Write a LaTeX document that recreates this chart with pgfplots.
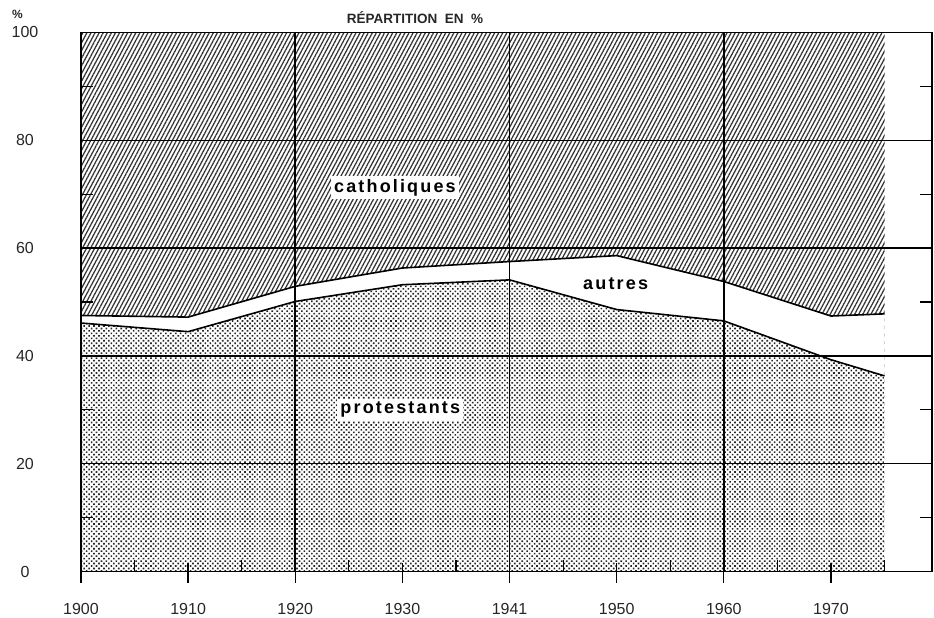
\documentclass[border=0pt]{standalone}
\usepackage{fontspec}
\setmainfont{Liberation Sans}
\newfontfamily\spaced[LetterSpace=12]{Liberation Sans}
\usepackage{pgfplots}
\pgfplotsset{compat=1.18}
\usetikzlibrary{patterns.meta}

\begin{document}
\begin{tikzpicture}
\path[use as bounding box] (-81pt,-46.3pt) rectangle (853pt,571.7pt);
\begin{axis}[
  scale only axis, width=851pt, height=539.4pt,
  xmin=1900, xmax=1979.43, ymin=0, ymax=100,
  axis on top,
  axis line style={black, line width=1.5pt},
  xtick={1900,1910,...,1970},
  xticklabels={1900,1910,1920,1930,1941,1950,1960,1970},
  minor xtick={1905,1915,...,1975},
  ytick={0,20,...,100},
  minor ytick={10,30,...,90},
  xtick pos=left,
  tick align=inside,
  major tick length=20pt, minor tick length=12pt,
  major x tick style={yshift=-11pt, line width=1.3pt, black},
  minor tick style={line width=1.2pt, black},
  major y tick style={draw=none},
  ymajorgrids, major grid style={black, line width=1.2pt},
  extra x ticks={1920,1940,1960}, extra x tick labels={},
  extra x tick style={grid=major, major tick length=0pt,
    major grid style={black, line width=1.6pt}},
  tick label style={font=\fontsize{16}{16}\selectfont, text=black!85},
  /pgf/number format/assume math mode=true,
  xticklabel style={anchor=center, yshift=-37pt},
  yticklabel style={anchor=center, xshift=-56pt},
]
% catholiques: hatched up to 100
\addplot[draw=none, pattern={Lines[angle=62, distance=3.6pt, line width=1.25pt]}, pattern color=black!80]
  coordinates {(1900,100) (1975,100)} \closedcycle;
% autres: white below the catholic boundary
\addplot[draw=none, fill=white]
  coordinates {(1900,47.5) (1910,47.2) (1920,52.9) (1930,56.3) (1940,57.5) (1950,58.6) (1960,53.8) (1970,47.4) (1975,47.8)} \closedcycle;
% protestants: dotted
\addplot[draw=none, pattern={Dots[distance=3.5pt, angle=45, radius=1.15pt]}, pattern color=black!85]
  coordinates {(1900,46.1) (1910,44.5) (1920,50.1) (1930,53.2) (1940,54.1) (1950,48.6) (1960,46.5) (1970,39.3) (1975,36.3)} \closedcycle;
% boundaries
\addplot[black, line width=1.6pt]
  coordinates {(1900,47.5) (1910,47.2) (1920,52.9) (1930,56.3) (1940,57.5) (1950,58.6) (1960,53.8) (1970,47.4) (1975,47.8)};
\addplot[black, line width=1.6pt]
  coordinates {(1900,46.1) (1910,44.5) (1920,50.1) (1930,53.2) (1940,54.1) (1950,48.6) (1960,46.5) (1970,39.3) (1975,36.3)};

\node[fill=white, inner xsep=3pt, inner ysep=3pt, font=\spaced\bfseries\fontsize{18}{18}\selectfont]
  at (axis cs:1929.3,71.2) {catholiques};
\node[fill=white, inner xsep=3pt, inner ysep=3pt, font=\spaced\bfseries\fontsize{18}{18}\selectfont]
  at (axis cs:1929.8,30) {protestants};
\node[font=\spaced\bfseries\fontsize{18}{18}\selectfont]
  at (axis cs:1949.9,53.4) {autres};
\end{axis}
\node[font=\bfseries\fontsize{13.5}{13.5}\selectfont, text=black!85] at (334pt,553.7pt) {RÉPARTITION\ \ EN\ \ \%};
\node[font=\bfseries\fontsize{12}{12}\selectfont, text=black!85] at (-63.5pt,557.7pt) {\%};
\end{tikzpicture}
\end{document}
